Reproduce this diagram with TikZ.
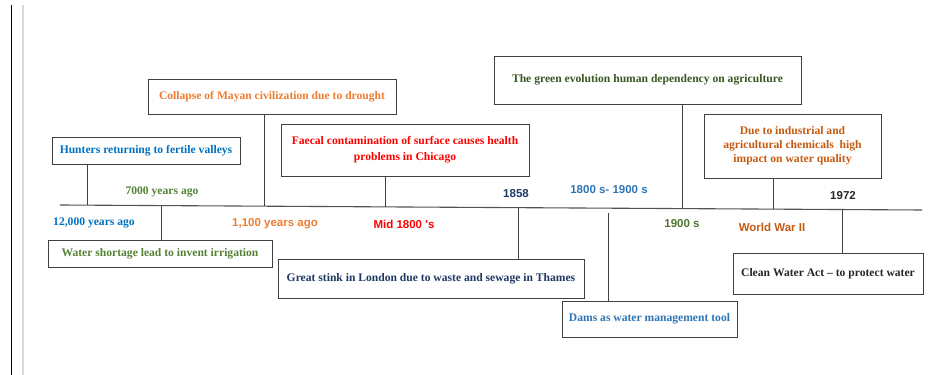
\documentclass[tikz,border=0pt]{standalone}
\usepackage{fontspec}
\setmainfont{Liberation Serif}
\newfontfamily\arialf{Liberation Sans}
\usetikzlibrary{calc}
\definecolor{cblue}{RGB}{0,112,192}
\definecolor{cblueL}{RGB}{46,117,182}
\definecolor{corange}{RGB}{237,125,49}
\definecolor{cred}{RGB}{255,0,0}
\definecolor{cgreen}{RGB}{84,130,53}
\definecolor{cgreenD}{RGB}{56,87,35}
\definecolor{cgreenM}{RGB}{76,118,46}
\definecolor{cnavy}{RGB}{31,56,100}
\definecolor{cbrown}{RGB}{197,90,17}
\definecolor{cdark}{RGB}{38,38,38}
\definecolor{cline}{RGB}{64,64,64}
\tikzset{
  evbox/.style={draw=cline, line width=0.9pt, inner sep=0pt, align=center,
    font=\fontsize{11.6}{14}\selectfont\bfseries},
  datelbl/.style={inner sep=0pt, font=\arialf\fontsize{11.5}{13}\selectfont\bfseries},
  serlbl/.style={inner sep=0pt, font=\fontsize{11.6}{13}\selectfont\bfseries},
  conn/.style={draw=cline, line width=0.8pt},
}
\begin{document}
\begin{tikzpicture}[x=1pt,y=1pt]
\useasboundingbox (0,0) rectangle (935,375);
% page edges
\coordinate (lt) at (11.5,370);
\coordinate (lb) at (11.5,0);
\draw[black, line width=1pt] (lt) -- (lb);
\coordinate (gt) at (23,370);
\coordinate (gb) at (23,0);
\draw[black!15, line width=1.5pt] (gt) -- (gb);
% timeline
\coordinate (tlL) at (60,170);
\coordinate (tlR) at (922,165);
\draw[draw=cline!90, line width=1.1pt] (tlL) -- (tlR);
% boxes above
\node[evbox, minimum width=188, minimum height=27, text=cblue] (hunt) at (146,224.5) {Hunters returning to fertile valleys};
\node[evbox, minimum width=248, minimum height=35, text=corange] (maya) at (272,278.5) {Collapse of Mayan civilization due to drought};
\node[evbox, minimum width=248, minimum height=52, text=cred, font=\fontsize{11.6}{16}\selectfont\bfseries] (faec) at (405,225) {Faecal contamination of surface causes health\\problems in Chicago};
\node[evbox, minimum width=307, minimum height=48, text=cgreenD] (green) at (647.5,295) {The green evolution human dependency on agriculture};
\node[evbox, minimum width=177, minimum height=64, text=cbrown] (indu) at (792.5,229) {Due to industrial and\\agricultural chemicals\ \ high\\impact on water quality};
% boxes below
\node[evbox, minimum width=224, minimum height=27, text=cgreen] (irri) at (160,121.5) {Water shortage lead to invent irrigation};
\node[evbox, minimum width=306, minimum height=39, text=cnavy] (stink) at (431,96.5) {Great stink in London due to waste and sewage in Thames};
\node[evbox, minimum width=175, minimum height=36, text=cblueL] (dams) at (649.5,56) {Dams as water management tool};
\node[evbox, minimum width=190, minimum height=41, text=cdark] (clean) at (828,101.5) {Clean Water Act -- to protect water};
% points on timeline
\coordinate (p1) at ($(tlL)!0.0313!(tlR)$);
\coordinate (p2) at ($(tlL)!0.2367!(tlR)$);
\coordinate (p3) at ($(tlL)!0.3770!(tlR)$);
\coordinate (p4) at ($(tlL)!0.7216!(tlR)$);
\coordinate (p5) at ($(tlL)!0.8271!(tlR)$);
\coordinate (p6) at ($(tlL)!0.1172!(tlR)$);
\coordinate (p7) at ($(tlL)!0.5313!(tlR)$);
\coordinate (p8) at (608,162);
\coordinate (p9) at ($(tlL)!0.9072!(tlR)$);
% connectors
\draw[conn] (p1 |- hunt.south) -- (p1);
\draw[conn] (p2 |- maya.south) -- (p2);
\draw[conn] (p3 |- faec.south) -- (p3);
\draw[conn] (p4 |- green.south) -- (p4);
\draw[conn] (p5 |- indu.south) -- (p5);
\draw[conn] (p6) -- (p6 |- irri.north);
\draw[conn] (p7) -- (p7 |- stink.north);
\draw[conn] (p8) -- (p8 |- dams.north);
\draw[conn] (p9) -- (p9 |- clean.north);
% date labels
\node[serlbl, text=cgreen] (d7000) at (162,183) {7000 years ago};
\node[serlbl, text=cblue] (d12000) at (94,152) {12,000 years ago};
\node[datelbl, text=corange] (d1100) at (275,151) {1,100 years ago};
\node[datelbl, text=cred] (dmid) at (404,151) {Mid 1800 's};
\node[datelbl, text=cnavy] (d1858) at (516,181) {1858};
\node[datelbl, text=cblueL] (d1800) at (609,185) {1800 s- 1900 s};
\node[datelbl, text=cgreenM] (d1900) at (682,151) {1900 s};
\node[datelbl, text=cbrown] (dww) at (772,148) {World War II};
\node[datelbl, text=cdark] (d1972) at (843,179) {1972};
\end{tikzpicture}
\end{document}
